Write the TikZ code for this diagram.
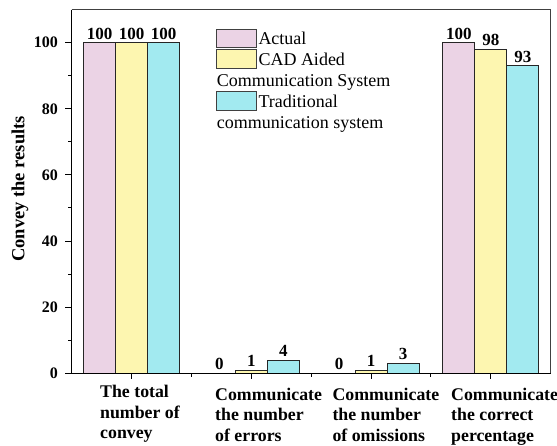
\documentclass[tikz,border=0pt]{standalone}
\usepackage{fontspec}
\setmainfont{Liberation Serif}
\definecolor{actualpink}{RGB}{235,211,229}
\definecolor{cadyellow}{RGB}{253,246,176}
\definecolor{tradcyan}{RGB}{162,234,240}
\definecolor{framegray}{RGB}{64,64,64}

\begin{document}
\begin{tikzpicture}[x=1pt,y=1pt,
	bar/.style={draw=black!85,line width=0.8pt},
	vallabel/.style={font=\fontsize{17}{20}\selectfont\bfseries,anchor=base,inner sep=0pt,yshift=3.5pt},
	ticklabel/.style={font=\fontsize{16}{19}\selectfont\bfseries,anchor=east,inner sep=0pt},
	catlabel/.style={font=\fontsize{17.8}{20.5}\selectfont\bfseries,align=left,anchor=north west,inner sep=0pt},
	legtext/.style={font=\fontsize{18}{21}\selectfont,anchor=base west,inner sep=0pt},
	legbox/.style={draw=framegray,line width=0.8pt}]
	\useasboundingbox (0,0) rectangle (557,445);

	% plot area: one group per unit in x, values in y
	\begin{scope}[shift={(11.8,71.7)},x=119.75pt,y=3.306pt]
	\filldraw[bar,fill=actualpink] (0.599,0) rectangle (0.866,100);
	\filldraw[bar,fill=cadyellow] (0.866,0) rectangle (1.134,100);
	\filldraw[bar,fill=tradcyan] (1.134,0) rectangle (1.401,100);

	\filldraw[bar,fill=cadyellow] (1.866,0) rectangle (2.134,1);
	\filldraw[bar,fill=tradcyan] (2.134,0) rectangle (2.401,4);

	\filldraw[bar,fill=cadyellow] (2.866,0) rectangle (3.134,1);
	\filldraw[bar,fill=tradcyan] (3.134,0) rectangle (3.401,3);

	\filldraw[bar,fill=actualpink] (3.599,0) rectangle (3.866,100);
	\filldraw[bar,fill=cadyellow] (3.866,0) rectangle (4.134,98);
	\filldraw[bar,fill=tradcyan] (4.134,0) rectangle (4.401,93);

	\node[vallabel] (v11) at (0.733,100) {100};
	\node[vallabel] (v12) at (1.000,100) {100};
	\node[vallabel] (v13) at (1.267,100) {100};
	\node[vallabel] (v21) at (1.733,0) {0};
	\node[vallabel] (v22) at (2.000,1) {1};
	\node[vallabel] (v23) at (2.267,4) {4};
	\node[vallabel] (v31) at (2.733,0) {0};
	\node[vallabel] (v32) at (3.000,1) {1};
	\node[vallabel] (v33) at (3.267,3) {3};
	\node[vallabel] (v41) at (3.733,100) {100};
	\node[vallabel] (v42) at (4.000,98) {98};
	\node[vallabel] (v43) at (4.267,93) {93};

	% frame and axes
	\draw[framegray,line width=1pt] (0.5,110) -- (4.5,110) -- (4.5,0);
	\draw[line width=1.3pt] (0.5,110) -- (0.5,0) -- (4.5,0);

	\foreach \v in {0,20,...,100}
		\draw[line width=1pt] (0.5,\v) -- ++(-6.5pt,0) node[ticklabel,xshift=-6.7pt] (ytick\v) {\v};
	\foreach \v in {10,30,...,90}
		\draw[line width=1pt] (0.5,\v) -- ++(-3.5pt,0);
	\foreach \i in {1,...,4}
		\draw[line width=1pt] (\i,0) -- ++(0,-6pt);
	\foreach \i in {1.5,2.5,3.5}
		\draw[line width=1pt] (\i,0) -- ++(0,-3.5pt);
	\end{scope}

	\node[rotate=90,font=\fontsize{18.5}{22}\selectfont\bfseries] (ytitle) at (20,256) {Convey the results};

	\node[catlabel] (cat1) at (100,59.9) {The total\\number of\\convey};
	\node[catlabel] (cat2) at (215,57.3) {Communicate\\the number\\of errors};
	\node[catlabel] (cat3) at (332.3,57.3) {Communicate\\the number\\of omissions};
	\node[catlabel] (cat4) at (451,57.3) {Communicate\\the correct\\percentage};

	% legend
	\filldraw[legbox,fill=actualpink] (216.7,397.7) rectangle (256.7,416);
	\filldraw[legbox,fill=cadyellow] (216.7,376.7) rectangle (256.7,395.7);
	\filldraw[legbox,fill=tradcyan] (216.7,335) rectangle (256.7,353.3);
	\node[legtext] (leg1) at (258.3,400) {Actual};
	\node[legtext] (leg2) at (258.3,379) {CAD Aided};
	\node[legtext] (leg2b) at (216.7,358.3) {Communication System};
	\node[legtext] (leg3) at (258.3,337.7) {Traditional};
	\node[legtext] (leg3b) at (216.7,316.7) {communication system};
\end{tikzpicture}
\end{document}
